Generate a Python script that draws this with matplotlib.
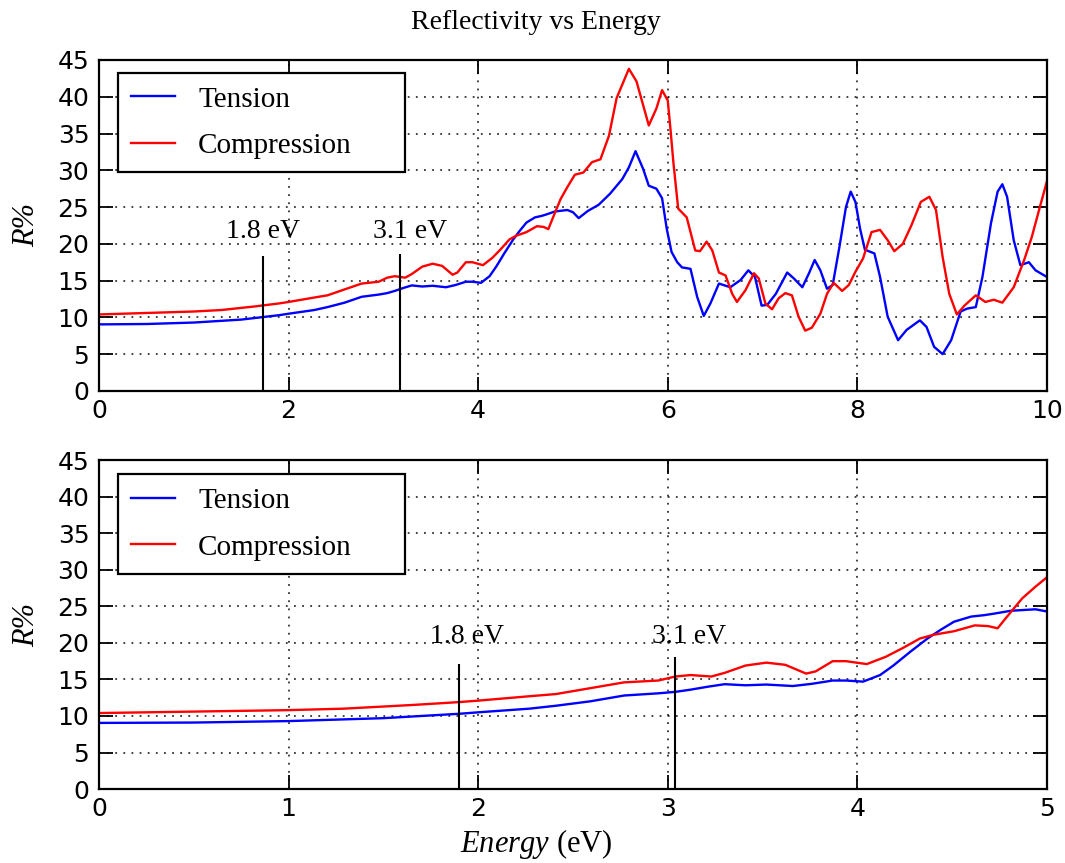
import matplotlib
matplotlib.use("Agg")
import matplotlib.pyplot as plt

# ---------------- data ----------------
E_tension = [0.0, 0.5, 1.0, 1.5, 1.9, 2.0, 2.27, 2.41, 2.59, 2.77, 2.95, 3.04, 3.12,
             3.21, 3.30, 3.41, 3.52, 3.66, 3.76, 3.87, 3.94, 4.03, 4.12, 4.19, 4.28,
             4.37, 4.44, 4.51, 4.60, 4.67, 4.72, 4.81, 4.94, 5.00, 5.06, 5.16, 5.27,
             5.39, 5.52, 5.59, 5.66, 5.74, 5.80, 5.88, 5.94, 5.99, 6.04, 6.10, 6.15,
             6.24, 6.31, 6.38, 6.45, 6.54, 6.66, 6.77, 6.85, 6.92, 6.99, 7.05, 7.14,
             7.26, 7.33, 7.42, 7.49, 7.55, 7.61, 7.68, 7.74, 7.81, 7.88, 7.93, 7.98,
             8.03, 8.08, 8.14, 8.18, 8.24, 8.32, 8.43, 8.52, 8.66, 8.73, 8.81, 8.90,
             8.99, 9.09, 9.16, 9.25, 9.32, 9.41, 9.48, 9.53, 9.58, 9.65, 9.72, 9.81,
             9.88, 10.0]
R_tension = [9.05, 9.1, 9.3, 9.7, 10.3, 10.5, 11.0, 11.4, 12.0, 12.8, 13.1, 13.3, 13.6,
             14.0, 14.35, 14.2, 14.3, 14.1, 14.4, 14.85, 14.85, 14.7, 15.6, 16.9, 18.8,
             20.6, 21.8, 22.9, 23.6, 23.8, 24.0, 24.4, 24.6, 24.3, 23.5, 24.5, 25.3,
             26.8, 28.8, 30.4, 32.6, 30.2, 27.9, 27.5, 26.2, 22.0, 18.9, 17.5, 16.8,
             16.6, 12.8, 10.2, 11.9, 14.6, 14.1, 15.1, 16.4, 15.5, 11.6, 11.7, 13.2,
             16.1, 15.3, 14.1, 16.0, 17.8, 16.4, 13.9, 14.4, 19.5, 25.0, 27.1, 25.7,
             22.0, 19.2, 18.9, 18.7, 15.5, 10.1, 6.9, 8.3, 9.6, 8.7, 6.0, 5.0,
             6.9, 10.8, 11.2, 11.4, 15.5, 22.8, 27.1, 28.1, 26.4, 20.5, 17.1, 17.5,
             16.4, 15.5]

E_compression = [0.0, 0.5, 1.0, 1.29, 1.65, 1.9, 2.0, 2.27, 2.41, 2.59, 2.77, 2.95, 3.04,
                 3.12, 3.23, 3.30, 3.41, 3.52, 3.62, 3.73, 3.78, 3.87, 3.94, 4.05, 4.15,
                 4.24, 4.33, 4.40, 4.51, 4.62, 4.69, 4.74, 4.79, 4.87, 4.94, 5.02, 5.11,
                 5.20, 5.29, 5.38, 5.46, 5.59, 5.67, 5.80, 5.88, 5.94, 6.00, 6.03, 6.06,
                 6.11, 6.20, 6.29, 6.34, 6.41, 6.47, 6.54, 6.61, 6.68, 6.73, 6.82, 6.91,
                 6.96, 7.03, 7.10, 7.17, 7.24, 7.31, 7.38, 7.45, 7.52, 7.61, 7.68, 7.75,
                 7.84, 7.91, 7.98, 8.06, 8.15, 8.24, 8.32, 8.39, 8.48, 8.57, 8.67, 8.76,
                 8.83, 8.90, 8.97, 9.05, 9.13, 9.25, 9.35, 9.44, 9.53, 9.65, 9.76, 9.84,
                 9.93, 10.0]
R_compression = [10.4, 10.6, 10.8, 11.0, 11.5, 11.9, 12.1, 12.7, 13.0, 13.8, 14.6, 14.85, 15.4,
                 15.6, 15.4, 15.9, 16.9, 17.3, 17.0, 15.8, 16.1, 17.5, 17.5, 17.1, 18.1,
                 19.3, 20.6, 21.1, 21.6, 22.4, 22.3, 22.0, 23.6, 26.1, 27.7, 29.4, 29.7,
                 31.1, 31.5, 34.7, 39.8, 43.8, 42.1, 36.1, 38.4, 40.9, 39.5, 35.4, 31.0,
                 24.8, 23.6, 19.1, 19.0, 20.3, 19.1, 16.1, 15.7, 13.2, 12.1, 13.7, 16.0,
                 15.3, 11.9, 11.1, 12.6, 13.3, 13.0, 10.1, 8.2, 8.6, 10.5, 13.2, 14.7,
                 13.6, 14.4, 16.2, 18.0, 21.6, 21.9, 20.5, 19.0, 20.0, 22.5, 25.7, 26.4,
                 24.6, 18.2, 13.2, 10.4, 11.6, 13.0, 12.1, 12.4, 12.0, 14.1, 17.8, 20.9,
                 25.2, 28.5]

series_labels = ["Tension", "Compression"]
series_colors = ["#0000ff", "#ff0000"]

marker_texts = ["1.8 eV", "3.1 eV"]
# top panel: marker line x, line top, text centre x, text baseline y
top_line_x = [1.73, 3.18]
top_line_top = [18.4, 18.6]
top_text_x = [1.73, 3.28]
top_text_y = [20.8, 20.8]
# bottom panel
bot_line_x = [1.90, 3.04]
bot_line_top = [17.1, 18.1]
bot_text_x = [1.94, 3.115]
bot_text_y = [20.0, 20.0]

yticks = [0, 5, 10, 15, 20, 25, 30, 35, 40, 45]

# ---------------- styling ----------------
plt.rcParams['font.family'] = ['Liberation Serif', 'DejaVu Serif']
plt.rcParams['mathtext.fontset'] = 'custom'
plt.rcParams['mathtext.rm'] = 'Liberation Serif'
plt.rcParams['mathtext.it'] = 'Liberation Serif:italic'

fig = plt.figure(figsize=(10.65, 8.63), dpi=100)
ax1 = fig.add_axes([0.093, 0.547, 0.890, 0.3835])
ax2 = fig.add_axes([0.093, 0.0857, 0.890, 0.381])

def style(ax, xmax, xticks):
    ax.set_xlim(0, xmax)
    ax.set_ylim(0, 45)
    ax.set_xticks(xticks)
    ax.set_yticks(yticks)
    ax.grid(True, linestyle=(0, (1, 3.5)), color='black', linewidth=1.3, alpha=0.8)
    ax.tick_params(direction='in', length=10, width=1.3, top=True, right=True,
                   labelsize=18, labelfontfamily='DejaVu Sans', colors='black')
    ax.tick_params(axis='x', pad=6)
    ax.tick_params(axis='y', pad=7)
    for s in ax.spines.values():
        s.set_linewidth(1.6)
    ax.set_ylabel("R%", fontsize=22, fontstyle='italic', labelpad=12)

for ax, xmax, xticks, lx, lt, tx, ty, anchor_y in (
        (ax1, 10, [0, 2, 4, 6, 8, 10], top_line_x, top_line_top, top_text_x, top_text_y, 1 - 13 / 331),
        (ax2, 5, [0, 1, 2, 3, 4, 5], bot_line_x, bot_line_top, bot_text_x, bot_text_y, 1 - 14 / 329)):
    ax.plot(E_tension, R_tension, color=series_colors[0], lw=1.7, label=series_labels[0])
    ax.plot(E_compression, R_compression, color=series_colors[1], lw=1.7, label=series_labels[1])
    ax.vlines(lx, 0, lt, colors='black', linewidth=1.5)
    for x, y, t in zip(tx, ty, marker_texts):
        ax.text(x, y, t, ha='center', va='baseline', fontsize=20)
    style(ax, xmax, xticks)
    leg = ax.legend(loc='upper left', bbox_to_anchor=(0.02, anchor_y - 0.5, 0.303, 0.5),
                    mode='expand', borderaxespad=0, fontsize=21, fancybox=False,
                    edgecolor='black', framealpha=1, handlelength=1.5,
                    handletextpad=0.8, borderpad=0.45, labelspacing=0.7)
    leg.get_frame().set_linewidth(1.6)

fig.text(0.503, 0.974, "Reflectivity vs Energy", ha='center', va='center', fontsize=20)
ax2.set_xlabel("$Energy$ (eV)", fontsize=22)
ax2.xaxis.set_label_coords((536 - 98) / 950, -0.115)

fig.savefig("out.png", dpi=100)
